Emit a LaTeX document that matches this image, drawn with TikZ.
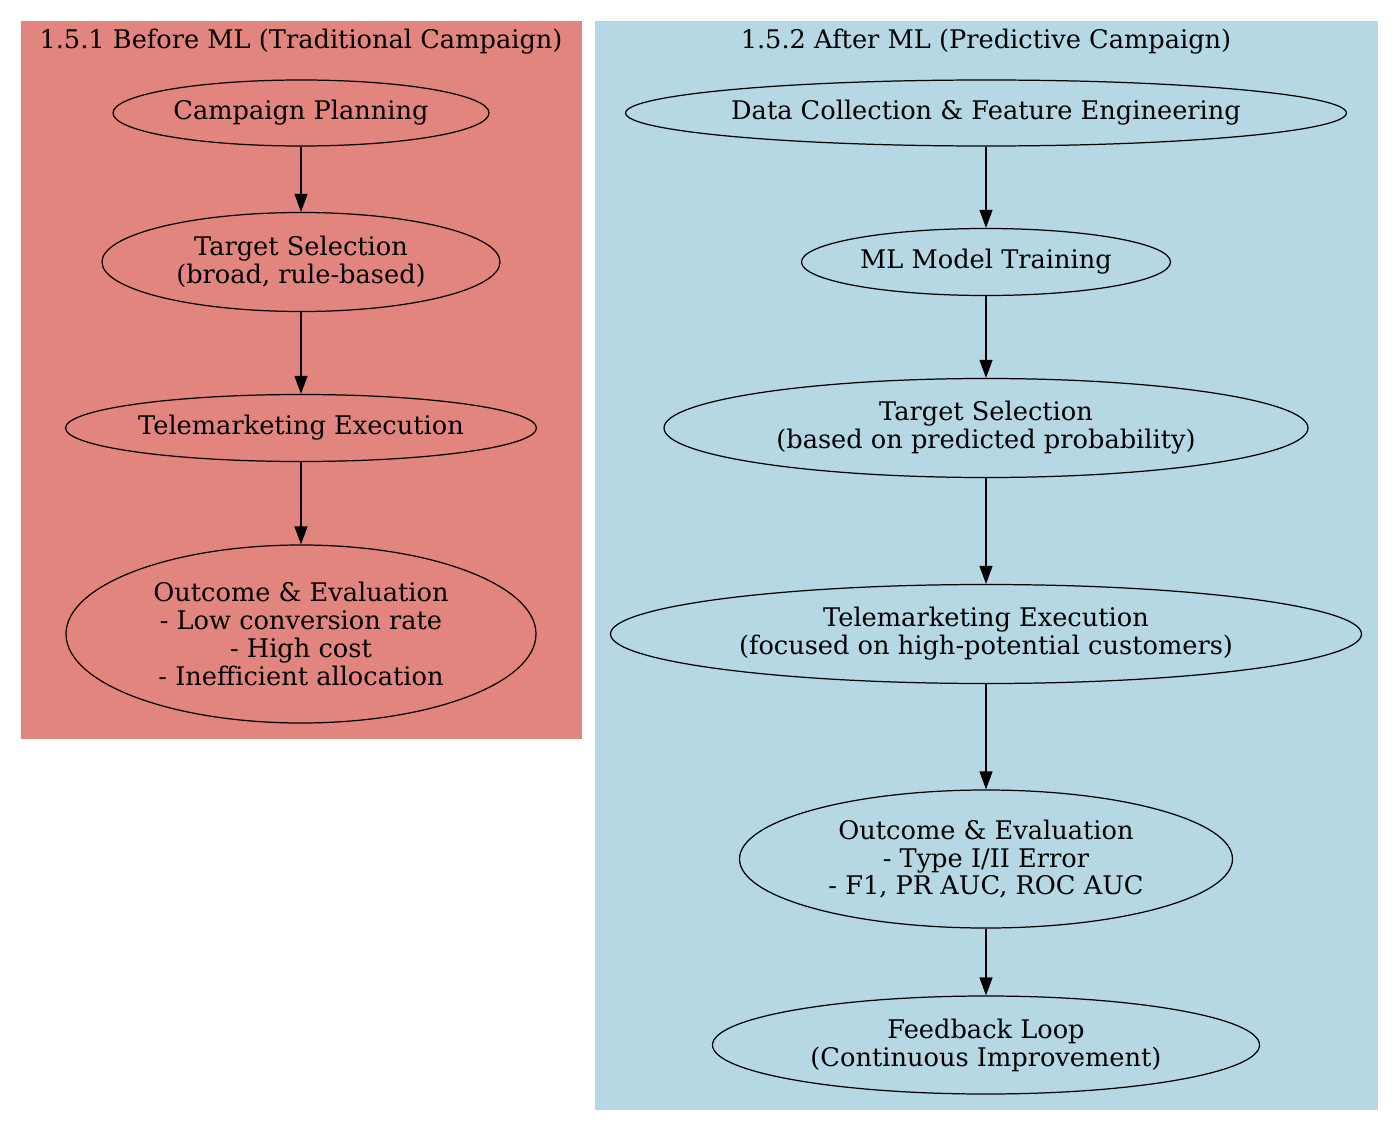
\documentclass[tikz,border=0pt]{standalone}
\usepackage{fontspec}
\setmainfont{DejaVu Serif}
\usetikzlibrary{shapes.geometric,arrows.meta}
\definecolor{beforered}{HTML}{E2857F}
\definecolor{afterblue}{HTML}{B5D8E4}
\tikzset{
  phase/.style 2 args={ellipse, draw, line width=0.7pt, inner sep=0pt, align=center,
    minimum width=#1*0.02cm, minimum height=#2*0.02cm},
  cluster title/.style={inner sep=0pt},
}
\begin{document}
\begin{tikzpicture}[x=0.02cm, y=-0.02cm, >={Triangle[length=0.36cm,width=0.26cm]},
    font=\fontsize{14.6}{15.9}\selectfont, line join=round]
  \useasboundingbox[fill=white] (0,0) rectangle (1400,1132);
  % clusters
  \fill[beforered] (21,21) rectangle (582,739);
  \fill[afterblue] (595,21) rectangle (1378,1110);
  \node[cluster title] (before) at (301,42) {1.5.1 Before ML (Traditional Campaign)};
  \node[cluster title] (after) at (986,42) {1.5.2 After ML (Predictive Campaign)};
  % before ML
  \node[phase={376}{66}] (plan) at (301,113) {Campaign Planning};
  \node[phase={398}{99}] (btarget) at (301,262) {Target Selection\\(broad, rule-based)};
  \node[phase={471}{67}] (bexec) at (301,428) {Telemarketing Execution};
  \node[phase={470}{178}] (boutcome) at (301,634) {Outcome \& Evaluation\\- Low conversion rate\\- High cost\\- Inefficient allocation};
  \draw[->, line width=0.7pt] (plan) -- (btarget);
  \draw[->, line width=0.7pt] (btarget) -- (bexec);
  \draw[->, line width=0.7pt] (bexec) -- (boutcome);
  % after ML
  \node[phase={713}{66}] (data) at (986,113) {Data Collection \& Feature Engineering};
  \node[phase={369}{67}] (train) at (986,262) {ML Model Training};
  \node[phase={644}{99}] (atarget) at (986,428) {Target Selection\\(based on predicted probability)};
  \node[phase={751}{99}] (aexec) at (986,634) {Telemarketing Execution\\(focused on high-potential customers)};
  \node[phase={493}{138}] (aoutcome) at (986,859) {Outcome \& Evaluation\\- Type I/II Error\\- F1, PR AUC, ROC AUC};
  \node[phase={547}{98}] (feedback) at (986,1045) {Feedback Loop\\(Continuous Improvement)};
  \draw[->, line width=0.7pt] (data) -- (train);
  \draw[->, line width=0.7pt] (train) -- (atarget);
  \draw[->, line width=0.7pt] (atarget) -- (aexec);
  \draw[->, line width=0.7pt] (aexec) -- (aoutcome);
  \draw[->, line width=0.7pt] (aoutcome) -- (feedback);
\end{tikzpicture}
\end{document}
